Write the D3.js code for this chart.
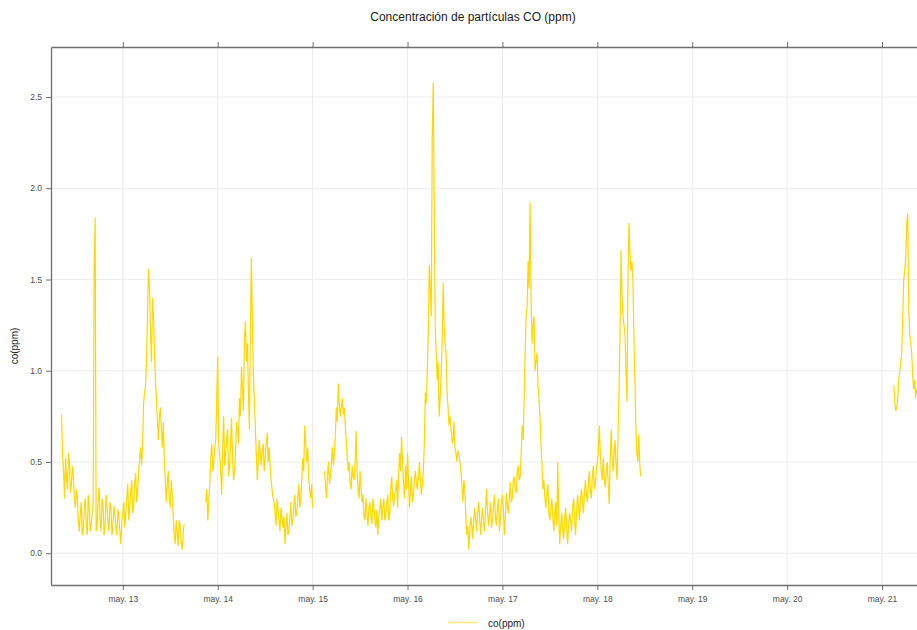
<!DOCTYPE html>
<html>
<head>
<meta charset="utf-8">
<script src="https://cdn.jsdelivr.net/npm/d3@7/dist/d3.min.js"></script>
<style>
  html, body { margin: 0; padding: 0; background: #ffffff; }
  svg { display: block; font-family: "Liberation Sans", Arial, sans-serif; }
</style>
</head>
<body>
<svg id="chart" width="917" height="630"></svg>
<script>
// ---------------- DATA ----------------
const chartTitle = "Concentración de partículas CO (ppm)";
const seriesName = "co(ppm)";
const yLabel = "co(ppm)";
const stepMinutes = 15;

// x-axis window and ticks
const xDomain = ["2023-05-12T05:50:00", "2023-05-21T14:40:00"];
const tickDays = ["2023-05-13", "2023-05-14", "2023-05-15", "2023-05-16", "2023-05-17",
                  "2023-05-18", "2023-05-19", "2023-05-20", "2023-05-21"];
const tickLabels = ["may. 13", "may. 14", "may. 15", "may. 16", "may. 17",
                    "may. 18", "may. 19", "may. 20", "may. 21"];
const yDomain = [-0.174, 2.774];
const yTicks = [0.0, 0.5, 1.0, 1.5, 2.0, 2.5];

// measured segments (15-minute readings), separated by gaps without data
const segmentStarts = ["2023-05-12T08:30:00", "2023-05-13T21:00:00",
                       "2023-05-15T03:00:00", "2023-05-21T03:00:00"];

const coSeg1 = [
  0.76, 0.55, 0.45, 0.30, 0.52, 0.42, 0.35, 0.55, 0.50, 0.33,
  0.38, 0.48, 0.42, 0.30, 0.25, 0.35, 0.30, 0.18, 0.12, 0.22,
  0.28, 0.10, 0.13, 0.26, 0.30, 0.16, 0.10, 0.32, 0.25, 0.12,
  0.15, 0.22, 0.28, 1.57, 1.84, 0.12, 0.15, 0.30, 0.36, 0.18,
  0.12, 0.30, 0.27, 0.10, 0.14, 0.32, 0.26, 0.16, 0.12, 0.28,
  0.25, 0.10, 0.15, 0.26, 0.22, 0.14, 0.10, 0.24, 0.20, 0.12,
  0.05, 0.18, 0.22, 0.28, 0.14, 0.22, 0.30, 0.38, 0.18, 0.25,
  0.34, 0.40, 0.22, 0.26, 0.38, 0.44, 0.28, 0.35, 0.45, 0.52,
  0.58, 0.48, 0.60, 0.82, 0.88, 0.92, 1.05, 1.32, 1.56, 1.45,
  1.20, 1.05, 1.40, 1.30, 1.10, 0.95, 0.85, 0.72, 0.62, 0.75,
  0.80, 0.68, 0.58, 0.72, 0.50, 0.40, 0.28, 0.38, 0.45, 0.30,
  0.25, 0.40, 0.32, 0.20, 0.10, 0.05, 0.18, 0.12, 0.04, 0.18,
  0.15, 0.06, 0.02, 0.10, 0.16];

const coSeg2 = [
  0.28, 0.35, 0.18, 0.30, 0.38, 0.52, 0.60, 0.45, 0.50, 0.58,
  0.62, 0.85, 1.08, 0.60, 0.55, 0.45, 0.32, 0.58, 0.75, 0.48,
  0.55, 0.62, 0.68, 0.42, 0.48, 0.60, 0.74, 0.52, 0.40, 0.45,
  0.55, 0.72, 0.68, 0.60, 0.85, 0.75, 1.02, 0.90, 0.78, 1.18,
  1.27, 1.05, 1.15, 0.90, 0.68, 1.20, 1.62, 1.30, 0.98, 0.85,
  0.70, 0.55, 0.40, 0.50, 0.62, 0.55, 0.48, 0.56, 0.60, 0.45,
  0.52, 0.60, 0.66, 0.50, 0.58, 0.48, 0.40, 0.35, 0.30, 0.28,
  0.22, 0.15, 0.30, 0.24, 0.18, 0.12, 0.25, 0.20, 0.14, 0.20,
  0.05, 0.15, 0.22, 0.10, 0.12, 0.20, 0.28, 0.15, 0.18, 0.26,
  0.32, 0.20, 0.22, 0.30, 0.38, 0.25, 0.30, 0.40, 0.52, 0.45,
  0.70, 0.60, 0.50, 0.58, 0.42, 0.35, 0.30, 0.38, 0.25];

const coSeg3 = [
  0.45, 0.38, 0.30, 0.42, 0.50, 0.38, 0.42, 0.50, 0.58, 0.48,
  0.55, 0.65, 0.80, 0.72, 0.93, 0.82, 0.75, 0.80, 0.85, 0.76,
  0.80, 0.70, 0.62, 0.52, 0.45, 0.50, 0.38, 0.35, 0.48, 0.42,
  0.40, 0.50, 0.67, 0.45, 0.35, 0.30, 0.45, 0.36, 0.28, 0.32,
  0.20, 0.18, 0.30, 0.22, 0.15, 0.25, 0.28, 0.20, 0.16, 0.30,
  0.26, 0.18, 0.14, 0.24, 0.10, 0.20, 0.25, 0.30, 0.18, 0.25,
  0.30, 0.18, 0.20, 0.28, 0.32, 0.18, 0.22, 0.35, 0.42, 0.30,
  0.26, 0.32, 0.35, 0.40, 0.25, 0.42, 0.55, 0.45, 0.64, 0.50,
  0.38, 0.30, 0.48, 0.35, 0.55, 0.40, 0.25, 0.35, 0.42, 0.28,
  0.32, 0.40, 0.45, 0.38, 0.35, 0.42, 0.50, 0.40, 0.32, 0.38,
  0.45, 0.60, 0.88, 0.82, 1.00, 1.20, 1.58, 1.45, 1.30, 2.27,
  2.58, 1.90, 1.25, 1.10, 0.95, 1.05, 0.75, 0.85, 0.98, 1.15,
  1.48, 1.25, 1.15, 1.10, 0.88, 0.80, 0.70, 0.75, 0.68, 0.62,
  0.60, 0.72, 0.58, 0.55, 0.50, 0.56, 0.55, 0.50, 0.45, 0.38,
  0.28, 0.40, 0.35, 0.20, 0.10, 0.15, 0.02, 0.12, 0.20, 0.15,
  0.08, 0.18, 0.25, 0.18, 0.12, 0.22, 0.28, 0.18, 0.10, 0.20,
  0.25, 0.16, 0.12, 0.25, 0.35, 0.22, 0.15, 0.22, 0.28, 0.14,
  0.18, 0.26, 0.32, 0.20, 0.15, 0.25, 0.30, 0.12, 0.20, 0.28,
  0.32, 0.24, 0.10, 0.20, 0.33, 0.26, 0.22, 0.30, 0.39, 0.28,
  0.30, 0.40, 0.42, 0.35, 0.33, 0.45, 0.48, 0.40, 0.42, 0.55,
  0.70, 0.62, 0.85, 1.10, 1.30, 1.35, 1.60, 1.45, 1.92, 1.40,
  1.15, 1.25, 1.30, 1.00, 1.05, 1.10, 0.92, 0.85, 0.75, 0.60,
  0.50, 0.35, 0.40, 0.30, 0.25, 0.33, 0.38, 0.22, 0.18, 0.25,
  0.30, 0.20, 0.12, 0.22, 0.28, 0.15, 0.50, 0.20, 0.05, 0.15,
  0.22, 0.12, 0.08, 0.20, 0.25, 0.14, 0.05, 0.15, 0.22, 0.18,
  0.12, 0.25, 0.30, 0.20, 0.10, 0.22, 0.32, 0.25, 0.18, 0.30,
  0.35, 0.28, 0.22, 0.33, 0.40, 0.32, 0.28, 0.38, 0.45, 0.35,
  0.30, 0.42, 0.48, 0.35, 0.38, 0.45, 0.50, 0.55, 0.70, 0.55,
  0.45, 0.40, 0.52, 0.42, 0.36, 0.45, 0.50, 0.38, 0.27, 0.50,
  0.68, 0.52, 0.45, 0.55, 0.62, 0.48, 0.40, 0.65, 0.90, 1.20,
  1.66, 1.40, 1.30, 1.25, 1.20, 1.00, 0.83, 1.50, 1.81, 1.65,
  1.55, 1.60, 1.50, 1.20, 0.95, 0.70, 0.55, 0.50, 0.65, 0.48,
  0.42];

const coSeg4 = [
  0.92, 0.82, 0.78, 0.80, 0.85, 0.95, 1.00, 1.05, 1.10, 1.30,
  1.50, 1.55, 1.62, 1.80, 1.86, 1.35, 1.20, 1.15, 1.10, 0.98,
  0.90, 0.95, 0.85, 0.90, 0.88];

const segmentValues = [coSeg1, coSeg2, coSeg3, coSeg4];

// ---------------- CHART ----------------
const svg = d3.select("#chart");
const plot = { left: 51, right: 940, top: 47, bottom: 585 };
const parseT = d3.timeParse("%Y-%m-%dT%H:%M:%S");
const parseD = d3.timeParse("%Y-%m-%d");

const x = d3.scaleTime()
  .domain(xDomain.map(parseT))
  .range([plot.left, plot.right]);
const y = d3.scaleLinear()
  .domain(yDomain)
  .range([plot.bottom, plot.top]);

const segments = segmentValues.map((vals, si) => {
  const t0 = parseT(segmentStarts[si]);
  return vals.map((v, i) => ({ t: d3.timeMinute.offset(t0, i * stepMinutes), v: v }));
});

const tickDates = tickDays.map(parseD);

svg.append("defs").append("clipPath").attr("id", "clip")
  .append("rect")
  .attr("x", plot.left).attr("y", plot.top)
  .attr("width", plot.right - plot.left).attr("height", plot.bottom - plot.top);

// grid
const grid = svg.append("g");
grid.selectAll("line.gy").data(yTicks).join("line")
  .attr("x1", plot.left).attr("x2", plot.right)
  .attr("y1", d => y(d)).attr("y2", d => y(d))
  .attr("stroke", "#ececec").attr("stroke-width", 1);
grid.selectAll("line.gx").data(tickDates).join("line")
  .attr("x1", d => x(d)).attr("x2", d => x(d))
  .attr("y1", plot.top).attr("y2", plot.bottom)
  .attr("stroke", "#ececec").attr("stroke-width", 1);

// series
const line = d3.line().x(d => x(d.t)).y(d => y(d.v));
svg.append("g").attr("clip-path", "url(#clip)")
  .selectAll("path").data(segments).join("path")
  .attr("d", line)
  .attr("fill", "none")
  .attr("stroke", "#FFD700")
  .attr("stroke-width", 1.2)
  .attr("stroke-linejoin", "miter");

// axes
const axisColor = "#6e6e6e";
const labelColor = "#4d4d4d";
const fmtTick = (d, i) => tickLabels[i];

const xBottom = svg.append("g").attr("transform", `translate(0,${plot.bottom})`)
  .call(d3.axisBottom(x).tickValues(tickDates).tickFormat(fmtTick).tickSize(5).tickSizeOuter(0));
const xTop = svg.append("g").attr("transform", `translate(0,${plot.top})`)
  .call(d3.axisTop(x).tickValues(tickDates).tickFormat("").tickSize(5).tickSizeOuter(0));
const yLeft = svg.append("g").attr("transform", `translate(${plot.left},0)`)
  .call(d3.axisLeft(y).tickValues(yTicks).tickFormat(d3.format(".1f")).tickSize(5).tickSizeOuter(0));

[xBottom, xTop, yLeft].forEach(g => {
  g.select(".domain").attr("stroke", axisColor).attr("stroke-width", 1.3);
  g.selectAll(".tick line").attr("stroke", axisColor).attr("stroke-width", 1);
  g.selectAll(".tick text").attr("fill", labelColor)
    .style("font-size", "8.5px").style("font-family", "'Liberation Sans', Arial, sans-serif");
});
xBottom.selectAll(".tick text").attr("dy", "0.71em").attr("y", 11);
yLeft.selectAll(".tick text").attr("x", -9);

// title
svg.append("text")
  .attr("x", 473).attr("y", 21)
  .attr("text-anchor", "middle")
  .style("font-size", "12px")
  .attr("fill", "#1a1a1a")
  .text(chartTitle);

// y label
svg.append("text")
  .attr("transform", "translate(18,346) rotate(-90)")
  .attr("text-anchor", "middle")
  .style("font-size", "10px")
  .attr("fill", "#1a1a1a")
  .text(yLabel);

// legend
const lg = svg.append("g");
lg.append("line")
  .attr("x1", 448).attr("x2", 478).attr("y1", 622.5).attr("y2", 622.5)
  .attr("stroke", "#FFD700").attr("stroke-opacity", 0.55).attr("stroke-width", 1.5);
lg.append("text")
  .attr("x", 488).attr("y", 626.5)
  .style("font-size", "10px")
  .attr("fill", "#1a1a1a")
  .text(seriesName);
</script>
</body>
</html>
